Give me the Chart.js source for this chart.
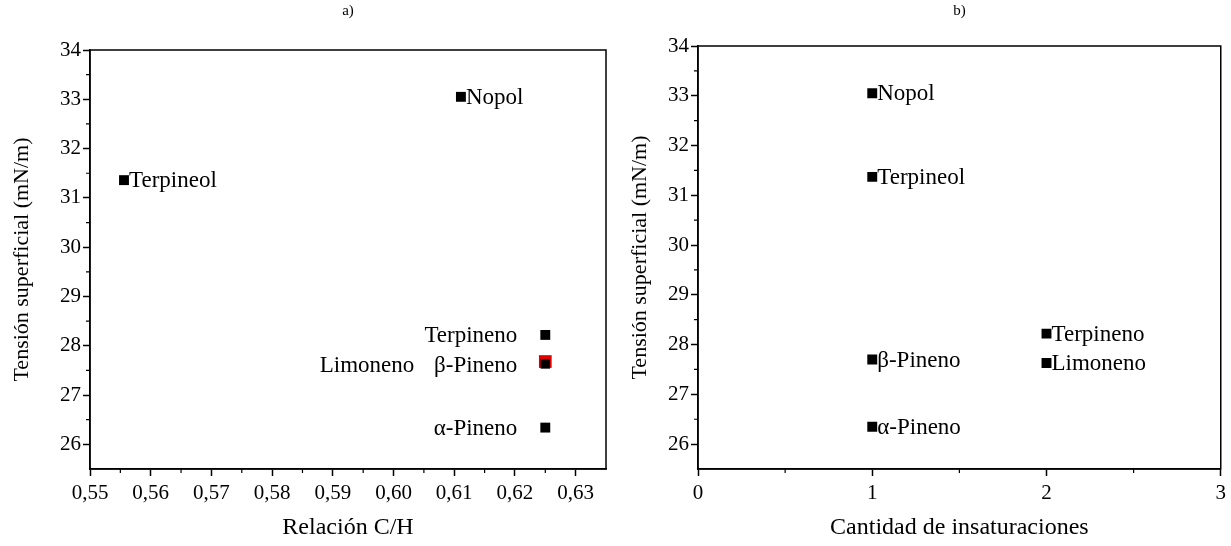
<!DOCTYPE html>
<html>
<head>
<meta charset="utf-8">
<script src="https://cdn.jsdelivr.net/npm/chart.js@4/dist/chart.umd.min.js"></script>
<style>
  body { margin: 0; background: #fff; }
  canvas { position: absolute; top: 0; }
  #chartA { left: 0; }
  #chartB { left: 615px; }
</style>
</head>
<body>
<canvas id="chartA" width="615" height="546"></canvas>
<canvas id="chartB" width="616" height="546"></canvas>
<script>
// Data - panel a) C/H ratio
const namesA = ['Terpineol', 'Nopol', 'Terpineno', 'β-Pineno', 'Limoneno', 'α-Pineno'];
const ratioCH = [0.5556, 0.6111, 0.625, 0.625, 0.625, 0.625];
const tensionA = [31.36, 33.05, 28.22, 27.68, 27.63, 26.34];
const xTicksA = [0.55, 0.56, 0.57, 0.58, 0.59, 0.60, 0.61, 0.62, 0.63];

// Data - panel b) unsaturations
const namesB = ['Nopol', 'Terpineol', 'Terpineno', 'Limoneno', 'β-Pineno', 'α-Pineno'];
const unsat = [1, 1, 2, 2, 1, 1];
const tensionB = [33.05, 31.37, 28.22, 27.63, 27.70, 26.35];
const xTicksB = [0, 1, 2, 3];

const yTicks = [26, 27, 28, 29, 30, 31, 32, 33, 34];

Chart.defaults.font.family = '"Liberation Serif", "Times New Roman", serif';
Chart.defaults.color = '#000';

// frame around plot + minor ticks + panel title
const frame = {
    id: 'frame',
    afterDraw(chart, args, opts) {
        const { ctx, chartArea: a, scales: { x, y } } = chart;
        ctx.save();
        ctx.strokeStyle = '#000';
        ctx.lineWidth = 1.5;
        ctx.strokeRect(a.left, a.top, a.right - a.left, a.bottom - a.top);

        // minor ticks halfway between majors
        ctx.lineWidth = 1.2;
        ctx.beginPath();
        for (let i = 0; i < x.ticks.length - 1; i++) {
            const px = x.getPixelForValue((x.ticks[i].value + x.ticks[i + 1].value) / 2);
            ctx.moveTo(px, a.bottom);
            ctx.lineTo(px, a.bottom + 4);
        }
        for (let i = 0; i < y.ticks.length - 1; i++) {
            const py = y.getPixelForValue((y.ticks[i].value + y.ticks[i + 1].value) / 2);
            ctx.moveTo(a.left, py);
            ctx.lineTo(a.left - 4, py);
        }
        ctx.stroke();

        ctx.fillStyle = '#000';
        ctx.font = '15px "Liberation Serif"';
        ctx.textAlign = 'center';
        ctx.textBaseline = 'middle';
        ctx.fillText(opts.title, (a.left + a.right) / 2, 11);
        ctx.restore();
    }
};

// text next to each marker
const pointLabels = {
    id: 'pointLabels',
    afterDatasetsDraw(chart, args, opts) {
        const ctx = chart.ctx;
        const meta = chart.getDatasetMeta(0);
        ctx.save();
        ctx.fillStyle = '#000';
        ctx.font = '23px "Liberation Serif"';
        ctx.textBaseline = 'middle';
        meta.data.forEach((pt, i) => {
            const dx = opts.dx[i];
            ctx.textAlign = dx < 0 ? 'right' : 'left';
            ctx.fillText(opts.names[i], pt.x + dx, pt.y + (opts.dy ? opts.dy[i] : 1));
        });
        ctx.restore();
    }
};

function makeScales(xMin, xMax, xTicks, xTitle, fmt, yWidth, yTitlePad) {
    return {
        x: {
            type: 'linear',
            min: xMin,
            max: xMax,
            afterBuildTicks: s => { s.ticks = xTicks.map(v => ({ value: v })); },
            afterFit: s => { s.height = 77; },
            ticks: { font: { size: 21 }, padding: 5, callback: fmt, autoSkip: false, maxRotation: 0 },
            grid: { drawOnChartArea: false, drawTicks: true, tickLength: 7, tickColor: '#000', tickWidth: 1.5 },
            border: { display: true, color: '#000', width: 1.5 },
            title: { display: true, text: xTitle, font: { size: 24 }, padding: { top: 0, bottom: 4 } }
        },
        y: {
            type: 'linear',
            min: 25.5,
            max: 34,
            afterBuildTicks: s => { s.ticks = yTicks.map(v => ({ value: v })); },
            afterFit: s => { s.width = yWidth; },
            ticks: { font: { size: 21 }, padding: 2 },
            grid: { drawOnChartArea: false, drawTicks: true, tickLength: 7, tickColor: '#000', tickWidth: 1.5 },
            border: { display: true, color: '#000', width: 1.5 },
            title: { display: true, text: 'Tensión superficial (mN/m)', font: { size: 22 }, padding: { top: yTitlePad, bottom: 0 } }
        }
    };
}

new Chart(document.getElementById('chartA'), {
    type: 'scatter',
    data: {
        datasets: [{
            data: ratioCH.map((v, i) => ({ x: v, y: tensionA[i] })),
            pointStyle: 'rect',
            pointRadius: [7, 7, 7, 9, 6.6, 7],
            pointBackgroundColor: ['#000', '#000', '#000', '#e00000', '#000', '#000'],
            pointBorderWidth: 0
        }]
    },
    options: {
        responsive: false,
        animation: false,
        devicePixelRatio: 1,
        layout: { padding: { top: 50, right: 5, left: 0, bottom: 0 } },
        plugins: {
            legend: { display: false },
            tooltip: { enabled: false },
            frame: { title: 'a)' },
            pointLabels: { names: namesA, dx: [5, 5, -28, -28, -131, -28], dy: [1, 1, 1, 4, 2, 1] }
        },
        scales: makeScales(0.55, 0.635, xTicksA, 'Relación C/H', v => v.toFixed(2).replace('.', ','), 90, 9)
    },
    plugins: [frame, pointLabels]
});

new Chart(document.getElementById('chartB'), {
    type: 'scatter',
    data: {
        datasets: [{
            data: unsat.map((v, i) => ({ x: v, y: tensionB[i] })),
            pointStyle: 'rect',
            pointRadius: 7,
            pointBackgroundColor: '#000',
            pointBorderWidth: 0
        }]
    },
    options: {
        responsive: false,
        animation: false,
        devicePixelRatio: 1,
        layout: { padding: { top: 46, right: 10, left: 0, bottom: 0 } },
        plugins: {
            legend: { display: false },
            tooltip: { enabled: false },
            frame: { title: 'b)' },
            pointLabels: { names: namesB, dx: [5, 5, 5, 5, 5, 5] }
        },
        scales: makeScales(0, 3, xTicksB, 'Cantidad de insaturaciones', v => String(v), 83, 12)
    },
    plugins: [frame, pointLabels]
});
</script>
</body>
</html>
